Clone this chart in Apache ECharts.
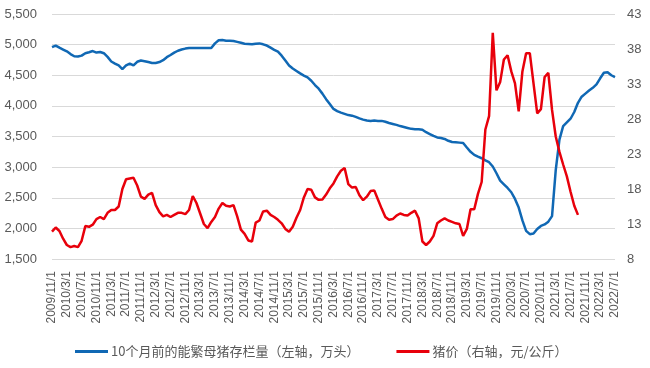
<!DOCTYPE html>
<html>
<head>
<meta charset="utf-8">
<script src="https://cdn.jsdelivr.net/npm/echarts@6/dist/echarts.min.js"></script>
<style>html,body{margin:0;padding:0;background:#fff}#c{width:650px;height:368px}</style>
</head>
<body>
<div id="c"></div>
<script>
// Monthly categories 2009/11/1 .. 2022/7/1
const startYear = 2009, startMonth = 11, monthCount = 153;
const categories = [];
for (let k = 0; k < monthCount; k++) {
  const m0 = startMonth - 1 + k;
  categories.push((startYear + Math.floor(m0 / 12)) + '/' + (m0 % 12 + 1) + '/1');
}

const sowNames = '10个月前的能繁母猪存栏量（左轴，万头）';
const priceNames = '猪价（右轴，元/公斤）';

// 10个月前的能繁母猪存栏量 (万头), left axis
const sowStock = [
  4960,4985,4950,4920,4890,4845,4810,4805,4820,4860,
  4875,4895,4870,4880,4860,4800,4725,4690,4660,4600,
  4660,4690,4660,4720,4740,4730,4715,4700,4700,4715,
  4745,4795,4830,4870,4900,4920,4935,4945,4945,4945,
  4945,4945,4945,4945,5020,5070,5075,5065,5065,5060,
  5045,5030,5015,5010,5005,5015,5020,5005,4985,4950,
  4915,4885,4820,4740,4660,4610,4570,4530,4495,4465,
  4410,4340,4280,4200,4110,4030,3950,3915,3890,3870,
  3850,3840,3820,3795,3775,3760,3755,3760,3755,3755,
  3740,3720,3705,3690,3670,3655,3640,3625,3620,3618,
  3610,3570,3540,3510,3485,3475,3460,3430,3410,3405,
  3400,3395,3320,3250,3200,3170,3145,3110,3080,3010,
  2900,2780,2720,2660,2590,2480,2340,2130,1960,1905,
  1915,1990,2040,2065,2110,2200,2950,3450,3670,3730,
  3790,3900,4050,4150,4200,4250,4295,4350,4450,4540,
  4550,4500,4470
];

// 猪价 (元/公斤), right axis
const hogPrice = [
  11.9,12.5,12.0,10.9,10.0,9.7,9.85,9.7,10.6,12.7,
  12.6,12.9,13.7,14.0,13.7,14.6,15.0,15.0,15.5,18.0,
  19.4,19.5,19.6,18.5,16.9,16.6,17.2,17.45,15.7,14.7,
  14.1,14.3,14.0,14.3,14.6,14.6,14.4,15.0,17.0,16.0,
  14.5,13.0,12.4,13.3,14.0,15.2,16.0,15.6,15.5,15.7,
  14.1,12.2,11.6,10.65,10.5,13.2,13.5,14.8,14.9,14.3,
  14.0,13.6,13.1,12.3,11.9,12.6,13.9,15.0,16.8,18.0,
  17.9,16.8,16.45,16.5,17.2,18.1,18.8,19.8,20.6,21.0,
  18.7,18.2,18.3,17.1,16.4,16.9,17.7,17.8,16.5,15.2,
  14.0,13.6,13.7,14.2,14.5,14.3,14.2,14.6,14.9,13.8,
  10.5,10.0,10.5,11.3,13.1,13.5,13.8,13.5,13.3,13.1,
  13.0,11.3,12.3,15.1,15.1,17.3,19.0,26.5,28.4,40.3,
  32.1,33.3,36.5,37.1,34.8,33.1,29.1,34.8,37.4,37.4,
  33.1,28.8,29.4,34.0,34.6,29.3,25.5,23.3,21.5,19.8,
  17.6,15.6,14.3
];

const leftMin = 1500, leftMax = 5500, leftStep = 500;
const rightMin = 8, rightMax = 43, rightStep = 5;

const chart = echarts.init(document.getElementById('c'), null, {renderer: 'canvas'});
const labelColor = '#595959';
const latin = '"Liberation Sans", Arial, sans-serif';
chart.setOption({
  animation: false,
  backgroundColor: '#fff',
  grid: {left: 52, right: 35, top: 14, bottom: 109, containLabel: false},
  legend: {
    left: 75, top: 345, padding: 0, itemWidth: 33, itemHeight: 3, itemGap: 37, icon: 'rect',
    textStyle: {fontSize: 13, color: labelColor, fontFamily: '"Noto Sans CJK SC", sans-serif', padding: [0,0,0,-2]},
    data: [sowNames, priceNames]
  },
  xAxis: {
    type: 'category', data: categories, boundaryGap: false,
    axisLine: {show: false}, axisTick: {show: false},
    axisLabel: {interval: 3, rotate: 90, fontSize: 12, color: labelColor, margin: 12, fontFamily: latin}
  },
  yAxis: [
    {
      type: 'value', min: leftMin, max: leftMax, interval: leftStep, position: 'left',
      axisLine: {show: false}, axisTick: {show: false},
      axisLabel: {fontSize: 13, color: labelColor, margin: 15, fontFamily: latin,
        formatter: v => v.toString().replace(/\B(?=(\d{3})+(?!\d))/g, ',')},
      splitLine: {lineStyle: {color: '#d9d9d9', width: 1}}
    },
    {
      type: 'value', min: rightMin, max: rightMax, interval: rightStep, position: 'right',
      axisLine: {show: false}, axisTick: {show: false},
      axisLabel: {fontSize: 13, color: labelColor, margin: 12, fontFamily: latin},
      splitLine: {show: false}
    }
  ],
  series: [
    {name: sowNames, type: 'line', yAxisIndex: 0, data: sowStock, symbol: 'none',
     lineStyle: {color: '#1068b4', width: 2.5}, itemStyle: {color: '#1068b4'}},
    {name: priceNames, type: 'line', yAxisIndex: 1, data: hogPrice, symbol: 'none',
     lineStyle: {color: '#e8000b', width: 2.5}, itemStyle: {color: '#e8000b'}}
  ]
});
</script>
</body>
</html>
